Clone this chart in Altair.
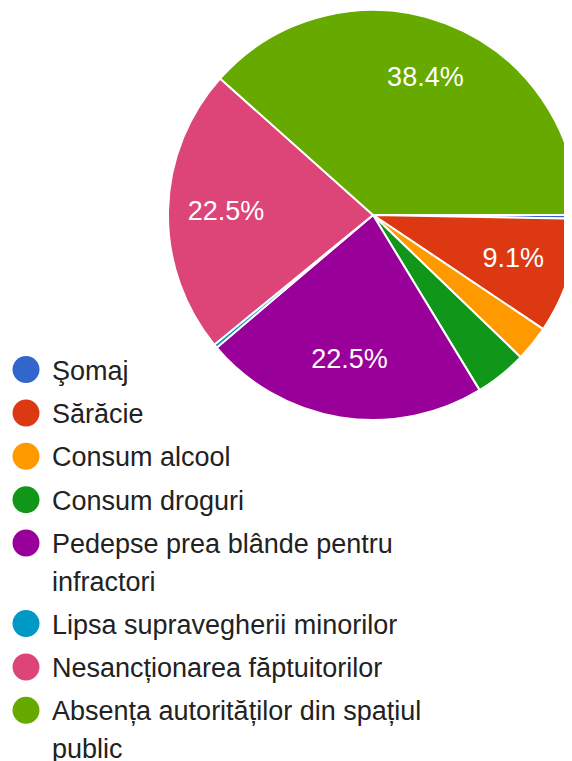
import math
import json
import altair as alt
import pandas as pd

FONT = "Liberation Sans, Arial, sans-serif"

categories = [
    "Şomaj",
    "Sărăcie",
    "Consum alcool",
    "Consum droguri",
    "Pedepse prea blânde pentru infractori",
    "Lipsa supravegherii minorilor",
    "Nesancționarea făptuitorilor",
    "Absența autorităților din spațiul public",
]
percent = [0.3, 9.1, 2.8, 4.1, 22.5, 0.3, 22.5, 38.4]
colors = ["#3366cc", "#dc3912", "#ff9900", "#109618", "#990099", "#0099c6", "#dd4477", "#66aa00"]
slice_labels = ["", "9.1%", "", "", "22.5%", "", "22.5%", "38.4%"]
wrapped = {
    "Pedepse prea blânde pentru infractori": ["Pedepse prea blânde pentru", "infractori"],
    "Absența autorităților din spațiul public": ["Absența autorităților din spațiul", "public"],
}

df = pd.DataFrame({
    "category": categories,
    "percent": percent,
    "label": slice_labels,
    "idx": list(range(len(categories))),
})

label_expr = ""
for k, v in wrapped.items():
    label_expr += f"datum.label == {json.dumps(k, ensure_ascii=False)} ? {json.dumps(v, ensure_ascii=False)} : "
label_expr += "datum.label"

# circle shifted upward so it sits beside the first text line (alphabetic baseline)
circle_path = "M-1,-0.741A1,1,0,1,1,1,-0.741A1,1,0,1,1,-1,-0.741Z"

theta = alt.Theta(
    "percent:Q", stack=True,
    scale=alt.Scale(range=[math.pi / 2, math.pi / 2 + 2 * math.pi]),
)

base = alt.Chart(df).encode(theta=theta, order=alt.Order("idx:Q"))

pie = base.mark_arc(radius=205, stroke="white", strokeWidth=2).encode(
    color=alt.Color(
        "category:N",
        scale=alt.Scale(domain=categories, range=colors),
        legend=alt.Legend(
            title=None,
            orient="none",
            legendX=4.5,
            legendY=358.0,
            padding=0,
            symbolType=circle_path,
            symbolSize=729,
            symbolStrokeWidth=0,
            symbolOpacity=1,
            labelFont=FONT,
            labelFontSize=27,
            labelColor="#222222",
            labelOffset=12.5,
            labelLimit=600,
            labelBaseline="alphabetic",
            rowPadding=13.4,
            labelExpr=label_expr,
        ),
    ),
    x=alt.value(365),
    y=alt.value(207),
)

text = base.mark_text(radius=147, fontSize=27, color="white", font=FONT).encode(
    text="label:N",
    x=alt.value(365),
    y=alt.value(207),
)

chart = (
    alt.layer(pie, text)
    .properties(width=556, height=753, padding=0, autosize=alt.AutoSizeParams(type="none"), background="white")
    .configure(style={"guide-label": {"lineHeight": 37.5}})
    .configure_view(stroke=None)
)

chart.save("out.html", embed_options={"renderer": "svg", "actions": False})
